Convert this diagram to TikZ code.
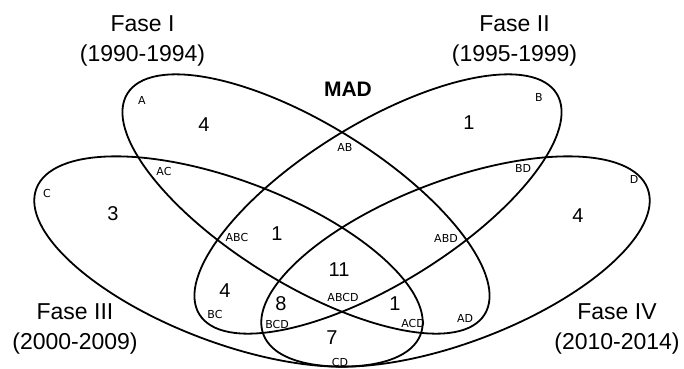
\documentclass[tikz,border=0pt]{standalone}
\usepackage{fontspec}
\setmainfont{Liberation Sans}
\newfontfamily\regionfont{DejaVu Sans}
\begin{document}
\begin{tikzpicture}[x=1pt,y=1pt,
 every node/.style={inner sep=0pt},
 venn/.style={line width=1.8pt},
 phase/.style={font=\fontsize{23}{28}\selectfont,anchor=base},
 count/.style={font=\fontsize{20}{24}\selectfont},
 region/.style={font=\regionfont\fontsize{11}{13}\selectfont}]
\useasboundingbox (0,0) rectangle (684,368);
% centres of the four ellipses
\coordinate (cA) at (306,164); \coordinate (cB) at (378,164);
\coordinate (cC) at (228.5,106.5); \coordinate (cD) at (455.5,106.5);
\draw[venn,rotate around={-31.7:(cA)}] (cA) ellipse [x radius=210pt,y radius=80pt];
\draw[venn,rotate around={31.7:(cB)}] (cB) ellipse [x radius=210pt,y radius=80pt];
\draw[venn,rotate around={-20.8:(cC)}] (cC) ellipse [x radius=205.5pt,y radius=81pt];
\draw[venn,rotate around={20.8:(cD)}] (cD) ellipse [x radius=205.5pt,y radius=81pt];
% phase titles
\node[phase] (fI) at (142.5,336.3) {Fase I};
\node[phase] (yI) at (142.5,306.5) {(1990-1994)};
\node[phase] (fII) at (514.5,336.3) {Fase II};
\node[phase] (yII) at (514.5,306.5) {(1995-1999)};
\node[phase] (fIII) at (75,49) {Fase III};
\node[phase] (yIII) at (75,18.3) {(2000-2009)};
\node[phase] (fIV) at (617,49) {Fase IV};
\node[phase] (yIV) at (617,18.3) {(2010-2014)};
\node[font=\fontsize{21}{24}\selectfont\bfseries] (mad) at (348,278.5) {MAD};
% counts
\node[count] (nA) at (204,243) {4};
\node[count] (nB) at (469,245) {1};
\node[count] (nC) at (113,154) {3};
\node[count] (nD) at (578,152) {4};
\node[count] (nAB) at (277,134) {1};
\node[count] (nBC) at (225,77) {4};
\node[count] (nBCD) at (281,64) {8};
\node[count] (nABCD) at (339,98) {11};
\node[count] (nACD) at (395,64) {1};
\node[count] (nCD) at (332,30) {7};
% region labels
\node[region] (lA) at (142,268) {A};
\node[region] (lB) at (539,271) {B};
\node[region] (lC) at (47,175) {C};
\node[region] (lD) at (634,189) {D};
\node[region] (lAB) at (345,221) {AB};
\node[region] (lAC) at (164,197) {AC};
\node[region] (lBD) at (523,200) {BD};
\node[region] (lABC) at (237,131) {ABC};
\node[region] (lABD) at (446,130) {ABD};
\node[region] (lBC) at (215,54) {BC};
\node[region] (lBCD) at (277,44) {BCD};
\node[region] (lABCD) at (343,71) {ABCD};
\node[region] (lACD) at (413,45) {ACD};
\node[region] (lAD) at (465,50) {AD};
\node[region] (lCD) at (340,6) {CD};
\end{tikzpicture}
\end{document}
